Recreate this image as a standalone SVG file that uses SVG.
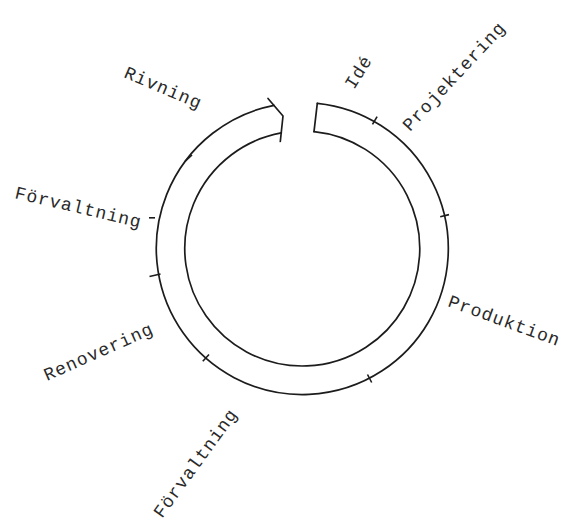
<svg xmlns="http://www.w3.org/2000/svg" width="565" height="525" viewBox="0 0 565 525">
<style>
.ln{fill:none;stroke:#1c1c1c;stroke-width:1.7;stroke-linecap:round;stroke-linejoin:round}
.tk{fill:none;stroke:#1c1c1c;stroke-width:1.6}
.lb{font-family:"Liberation Mono","DejaVu Sans Mono",monospace;font-size:18px;letter-spacing:1px;fill:#2a2a2a}
</style>
<rect width="565" height="525" fill="#ffffff"/>
<g id="ring">
<path class="ln" d="M274,105.3 A146,146 0 1 0 317.3,103.3"/>
<path class="ln" d="M281.3,132.9 A117.5,117.5 0 1 0 314,131.6"/>
<path class="ln" d="M317.3,103.3 L314,131.6"/>
<path class="ln" d="M268,98.5 L283,116 L280.3,141.5"/>
</g>
<g id="ticks">
<line class="tk" x1="372.5" y1="124.4" x2="377.1" y2="116.6"/>
<line class="tk" x1="440.2" y1="216.7" x2="449.0" y2="214.6"/>
<line class="tk" x1="367.5" y1="374.5" x2="371.7" y2="382.5"/>
<line class="tk" x1="209.0" y1="354.5" x2="202.8" y2="361.3"/>
<line class="tk" x1="160.5" y1="274.0" x2="149.5" y2="276.5"/>
<line class="tk" x1="149" y1="217.8" x2="155" y2="217.8"/>
<line class="tk" x1="192.0" y1="155.0" x2="185.0" y2="161.5"/>
</g>
<g id="label-rivning"><text class="lb" transform="translate(123,77) rotate(23)">Rivning</text></g>
<g id="label-ide"><text class="lb" transform="translate(354,90) rotate(-58)">Idé</text></g>
<g id="label-projektering"><text class="lb" transform="translate(410,132) rotate(-47)">Projektering</text></g>
<g id="label-forvaltning1"><text class="lb" transform="translate(14,198) rotate(13.3)">Förvaltning</text></g>
<g id="label-produktion"><text class="lb" transform="translate(447,306) rotate(20)">Produktion</text></g>
<g id="label-renovering"><text class="lb" transform="translate(47,381) rotate(-24)">Renovering</text></g>
<g id="label-forvaltning2"><text class="lb" transform="translate(162,519) rotate(-54)">Förvaltning</text></g>
</svg>
